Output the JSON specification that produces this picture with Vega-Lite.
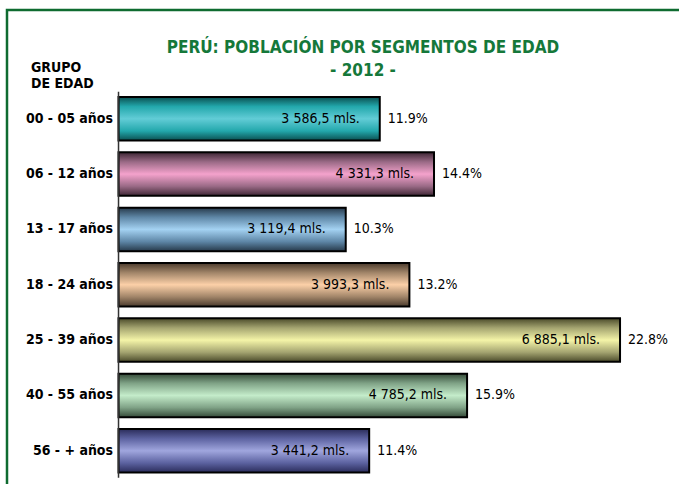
{
  "$schema": "https://vega.github.io/schema/vega-lite/v6.json",
  "width": 700,
  "height": 550,
  "autosize": {"type": "none"},
  "padding": {"left": 7, "top": 10, "right": 0, "bottom": 0},
  "background": "white",
  "config": {"view": {"stroke": "#0f6b30", "strokeWidth": 2.5}},
  "title": {
    "text": ["PERÚ: POBLACIÓN POR SEGMENTOS DE EDAD", "- 2012 -"],
    "font": "Liberation Sans Narrow, DejaVu Sans Condensed, sans-serif",
    "fontSize": 17,
    "fontWeight": "bold",
    "color": "#15783a",
    "anchor": "middle",
    "baseline": "top",
    "offset": -70,
    "lineHeight": 23,
    "dx": 6
  },
  "data": {
    "values": [
      {"grupo": "00 - 05 años", "valor": 3586.5, "etiqueta": "3 586,5 mls.", "pct": "11.9%"},
      {"grupo": "06 - 12 años", "valor": 4331.3, "etiqueta": "4 331,3 mls.", "pct": "14.4%"},
      {"grupo": "13 - 17 años", "valor": 3119.4, "etiqueta": "3 119,4 mls.", "pct": "10.3%"},
      {"grupo": "18 - 24 años", "valor": 3993.3, "etiqueta": "3 993,3 mls.", "pct": "13.2%"},
      {"grupo": "25 - 39 años", "valor": 6885.1, "etiqueta": "6 885,1 mls.", "pct": "22.8%"},
      {"grupo": "40 - 55 años", "valor": 4785.2, "etiqueta": "4 785,2 mls.", "pct": "15.9%"},
      {"grupo": "56 - + años", "valor": 3441.2, "etiqueta": "3 441,2 mls.", "pct": "11.4%"}
    ]
  },
  "layer": [
    {
      "mark": {"type": "bar", "stroke": "black", "strokeWidth": 2},
      "encoding": {
        "y": {
          "field": "grupo",
          "type": "nominal",
          "sort": null,
          "scale": {
            "domain": ["00 - 05 años", "06 - 12 años", "13 - 17 años", "18 - 24 años", "25 - 39 años", "40 - 55 años", "56 - + años"],
            "range": [87, 462.5],
            "paddingInner": 0.214,
            "paddingOuter": 0
          },
          "axis": {
            "title": ["GRUPO", "DE EDAD"],
            "offset": -111.5,
            "domain": false,
            "ticks": false,
            "grid": false,
            "labelPadding": 6,
            "labelFont": "Liberation Sans Narrow, DejaVu Sans Condensed, sans-serif",
            "labelFontSize": 14,
            "labelFontWeight": "bold",
            "labelColor": "black",
            "titleFont": "Liberation Sans Narrow, DejaVu Sans Condensed, sans-serif",
            "titleFontSize": 14,
            "titleFontWeight": "bold",
            "titleColor": "black",
            "titleAngle": 0,
            "titleAlign": "left",
            "titleBaseline": "top",
            "titleLineHeight": 16,
            "titleX": -88,
            "titleY": 50
          }
        },
        "x": {
          "field": "valor",
          "type": "quantitative",
          "scale": {"domain": [-1531, 8079], "nice": false, "zero": false},
          "axis": null
        },
        "fill": {
          "condition": [
            {"test": "datum.grupo === '00 - 05 años'", "value": {"gradient": "linear", "x1": 0, "y1": 0, "x2": 0, "y2": 1, "stops": [{"offset": 0, "color": "#0a4f50"}, {"offset": 0.22, "color": "#23a8ac"}, {"offset": 0.5, "color": "#62ccd6"}, {"offset": 0.78, "color": "#23a8ac"}, {"offset": 1, "color": "#0a4f50"}]}},
            {"test": "datum.grupo === '06 - 12 años'", "value": {"gradient": "linear", "x1": 0, "y1": 0, "x2": 0, "y2": 1, "stops": [{"offset": 0, "color": "#3e2634"}, {"offset": 0.22, "color": "#9a6a86"}, {"offset": 0.5, "color": "#f4a2cc"}, {"offset": 0.78, "color": "#9a6a86"}, {"offset": 1, "color": "#3e2634"}]}},
            {"test": "datum.grupo === '13 - 17 años'", "value": {"gradient": "linear", "x1": 0, "y1": 0, "x2": 0, "y2": 1, "stops": [{"offset": 0, "color": "#26394a"}, {"offset": 0.22, "color": "#5e86a6"}, {"offset": 0.5, "color": "#a4d2f2"}, {"offset": 0.78, "color": "#5e86a6"}, {"offset": 1, "color": "#26394a"}]}},
            {"test": "datum.grupo === '18 - 24 años'", "value": {"gradient": "linear", "x1": 0, "y1": 0, "x2": 0, "y2": 1, "stops": [{"offset": 0, "color": "#4a3a2c"}, {"offset": 0.22, "color": "#a08468"}, {"offset": 0.5, "color": "#fcd0a8"}, {"offset": 0.78, "color": "#a08468"}, {"offset": 1, "color": "#4a3a2c"}]}},
            {"test": "datum.grupo === '25 - 39 años'", "value": {"gradient": "linear", "x1": 0, "y1": 0, "x2": 0, "y2": 1, "stops": [{"offset": 0, "color": "#4a4a2a"}, {"offset": 0.22, "color": "#a4a470"}, {"offset": 0.5, "color": "#f4f4a8"}, {"offset": 0.78, "color": "#a4a470"}, {"offset": 1, "color": "#4a4a2a"}]}},
            {"test": "datum.grupo === '40 - 55 años'", "value": {"gradient": "linear", "x1": 0, "y1": 0, "x2": 0, "y2": 1, "stops": [{"offset": 0, "color": "#344a38"}, {"offset": 0.22, "color": "#7fa286"}, {"offset": 0.5, "color": "#c4ecca"}, {"offset": 0.78, "color": "#7fa286"}, {"offset": 1, "color": "#344a38"}]}},
            {"test": "datum.grupo === '56 - + años'", "value": {"gradient": "linear", "x1": 0, "y1": 0, "x2": 0, "y2": 1, "stops": [{"offset": 0, "color": "#2a2c5a"}, {"offset": 0.22, "color": "#5c62a0"}, {"offset": 0.5, "color": "#a0a6de"}, {"offset": 0.78, "color": "#5c62a0"}, {"offset": 1, "color": "#2a2c5a"}]}}
          ],
          "value": "#999999"
        }
      }
    },
    {
      "mark": {"type": "text", "align": "right", "baseline": "middle", "dx": -20, "font": "Liberation Sans Narrow, DejaVu Sans Condensed, sans-serif", "fontSize": 14, "color": "black"},
      "encoding": {
        "y": {"field": "grupo", "type": "nominal", "sort": null},
        "x": {"field": "valor", "type": "quantitative"},
        "text": {"field": "etiqueta"}
      }
    },
    {
      "mark": {"type": "text", "align": "left", "baseline": "middle", "dx": 8, "font": "Liberation Sans Narrow, DejaVu Sans Condensed, sans-serif", "fontSize": 14, "color": "black"},
      "encoding": {
        "y": {"field": "grupo", "type": "nominal", "sort": null},
        "x": {"field": "valor", "type": "quantitative"},
        "text": {"field": "pct"}
      }
    },
    {
      "data": {"values": [{"desde": "00 - 05 años", "hasta": "56 - + años"}]},
      "mark": {"type": "rule", "color": "#333333", "strokeWidth": 1.5},
      "encoding": {
        "x": {"datum": 0, "type": "quantitative"},
        "y": {"field": "desde", "type": "nominal", "bandPosition": -0.12},
        "y2": {"field": "hasta", "bandPosition": 1.12}
      }
    }
  ]
}
